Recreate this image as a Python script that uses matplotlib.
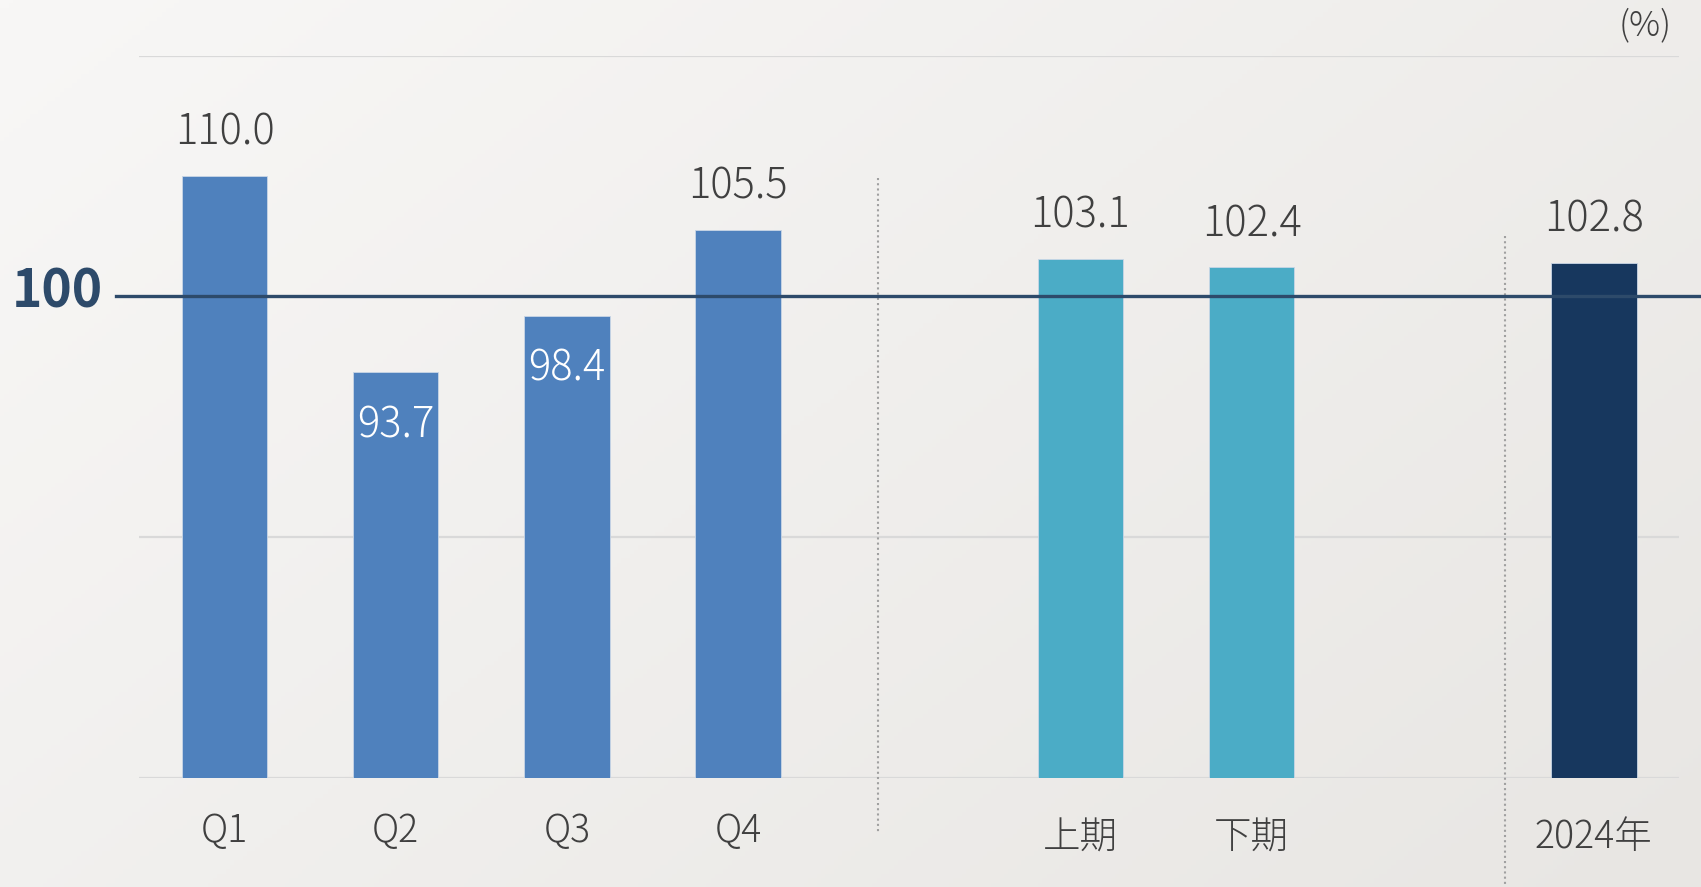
import numpy as np
import matplotlib
matplotlib.use("Agg")
import matplotlib.pyplot as plt
from matplotlib.colors import LinearSegmentedColormap

plt.rcParams['font.family'] = ['Noto Sans CJK JP', 'DejaVu Sans']

# ---- data ----
categories = ["Q1", "Q2", "Q3", "Q4", "上期", "下期", "2024年"]
values = [110.0, 93.7, 98.4, 105.5, 103.1, 102.4, 102.8]
positions = [0, 1, 2, 3, 5, 6, 8]
bar_colors = ["#4f81bd", "#4f81bd", "#4f81bd", "#4f81bd", "#4bacc6", "#4bacc6", "#17375e"]
baseline = 100
grid_values = [60, 80, 120]
separators = [(3.82, 109.8, 55.5), (7.48, 105.0, 48.0)]

TEXT = "#404040"
DARK = "#2d4a6a"

fig = plt.figure(figsize=(17.01, 8.879), dpi=100)

# background gradient
bg = fig.add_axes([0, 0, 1, 1], zorder=-10)
bg.axis("off")
xx, yy = np.meshgrid(np.linspace(0, 1, 400), np.linspace(0, 1, 200))
g = (xx * 0.6 + yy * 0.4)
cmap = LinearSegmentedColormap.from_list("bg", ["#f8f7f6", "#e8e6e3"])
bg.imshow(g, cmap=cmap, aspect="auto", extent=[0, 1, 0, 1], origin="upper")
bg.set_xlim(0, 1)
bg.set_ylim(0, 1)

ax = fig.add_axes([0.0817, 0.1231, 0.9056, 0.8133])
ax.set_facecolor("none")
ax.set_xlim(-0.5, 8.5)
ax.set_ylim(60, 120)
for s in ax.spines.values():
    s.set_visible(False)
ax.set_xticks([])
ax.set_yticks([])

for gv in grid_values:
    ax.axhline(gv, color="#d9d9d9", lw=1.6, zorder=1)

ax.bar(positions, [v - 60 for v in values], bottom=60, width=0.5,
       color=bar_colors, edgecolor="#c9d6e6", linewidth=0.6, zorder=2)

# baseline
ax.axhline(baseline, xmin=-0.015, xmax=1.02, color=DARK, lw=2.4,
           zorder=4, clip_on=False)
ax.annotate("100", xy=(0, baseline), xycoords=("axes fraction", "data"),
            xytext=(-26, 3.5), textcoords="offset points", ha="right", va="center",
            fontsize=37, fontweight="bold", color=DARK, annotation_clip=False)

# separators
for x, y0, y1 in separators:
    ax.plot([x, x], [y0, y1], color="#a0a0a0", lw=1.5, ls=(0, (1, 1.5)),
            zorder=3, clip_on=False)

# value labels
for p, v in zip(positions, values):
    if v >= baseline:
        ax.annotate(f"{v:.1f}", xy=(p, v), xytext=(0, 31.5), textcoords="offset points",
                    ha="center", va="center", fontsize=30, fontweight="light",
                    color=TEXT, zorder=5)
    else:
        ax.annotate(f"{v:.1f}", xy=(p, v), xytext=(0, -38), textcoords="offset points",
                    ha="center", va="center", fontsize=30, fontweight="light",
                    color="white", zorder=5)

# category labels
for p, c in zip(positions, categories):
    dy = -38 if c.isascii() else -42.5
    ax.annotate(c, xy=(p, 0), xycoords=("data", "axes fraction"),
                xytext=(0, dy), textcoords="offset points",
                ha="center", va="center", fontsize=27, fontweight="light",
                color=TEXT, annotation_clip=False)

fig.text(1645 / 1701, 1 - 25 / 887, "(%)", ha="center", va="center",
         fontsize=25, fontweight="light", color=TEXT)

fig.savefig("out.png", dpi=100)
